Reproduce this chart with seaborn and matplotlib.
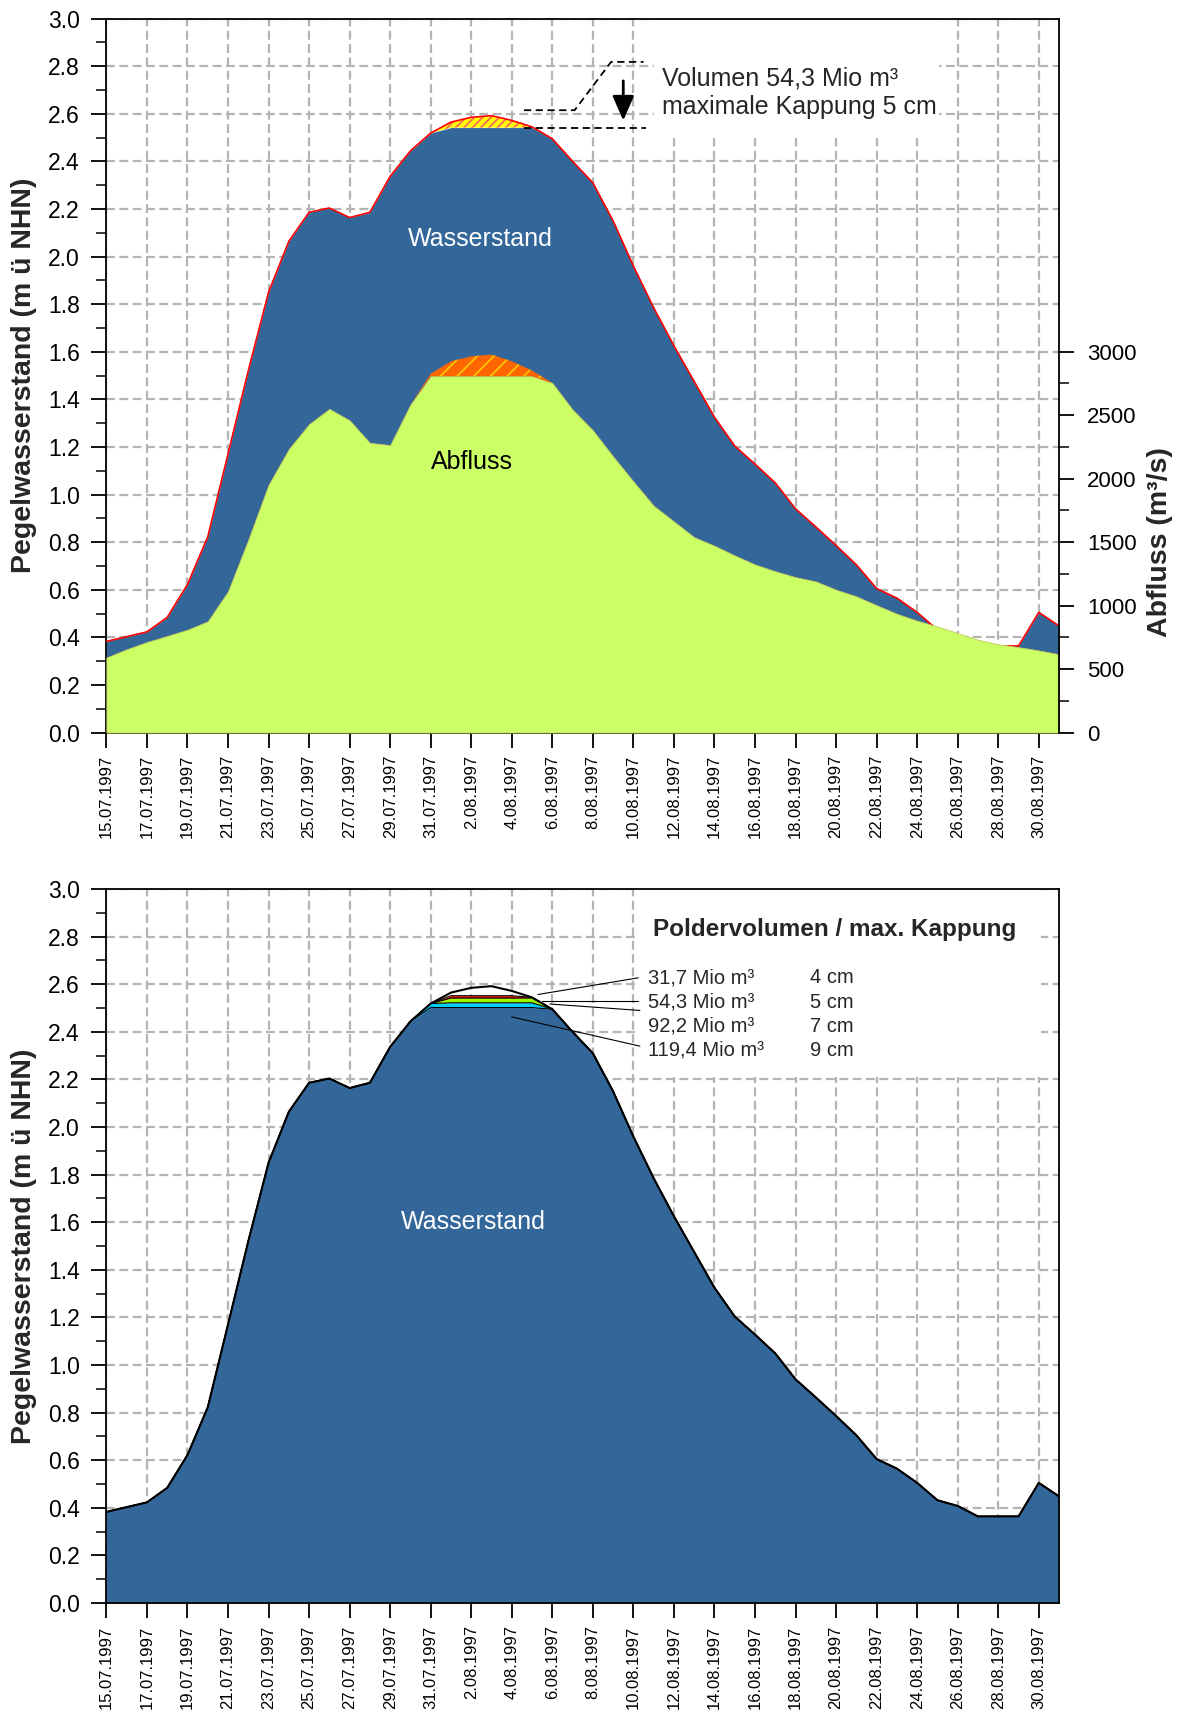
import numpy as np
import pandas as pd
import seaborn as sns
import matplotlib.pyplot as plt
from matplotlib.patches import Rectangle
from matplotlib.ticker import MultipleLocator, FixedLocator


# Tageswerte 15.07.1997 - 31.08.1997
datum = pd.date_range('1997-07-15', '1997-08-31', freq='D')

# Pegelwasserstand (m ü NHN)
wasserstand = [0.383, 0.403, 0.423, 0.484, 0.622, 0.822, 1.17, 1.52, 1.85, 2.064,
               2.186, 2.204, 2.164, 2.186, 2.337, 2.444, 2.519, 2.565, 2.585, 2.592,
               2.572, 2.545, 2.495, 2.40, 2.31, 2.15, 1.96, 1.785, 1.625, 1.475,
               1.325, 1.204, 1.128, 1.049, 0.94, 0.864, 0.786, 0.705, 0.605, 0.565,
               0.505, 0.432, 0.408, 0.364, 0.364, 0.364, 0.505, 0.448]

# Abfluss (m³/s)
abfluss = [591, 656, 713, 761, 810, 876, 1112, 1519, 1952, 2233,
           2430, 2550, 2460, 2282, 2265, 2584, 2826, 2925, 2964, 2978,
           2925, 2852, 2754, 2544, 2381, 2175, 1978, 1787, 1663, 1539,
           1472, 1395, 1324, 1271, 1224, 1191, 1125, 1073, 1003, 936,
           881, 836, 784, 731, 696, 673, 647, 617]

abfluss_kappung = 2808   # m³/s, gekappter Scheitel
kappung_oben = 5         # cm
polder_volumen = ['31,7 Mio m³', '54,3 Mio m³', '92,2 Mio m³', '119,4 Mio m³']
polder_kappung = [4, 5, 7, 9]   # cm
band_farben = ['#FF0000', '#99FF00', '#00CCFF']

tag = np.arange(len(datum))
tick_labels = [f'{d.day}.{d.month:02d}.{d.year}' for d in datum[::2]]
df = pd.DataFrame({'tag': tag, 'wasserstand': wasserstand, 'abfluss': abfluss})

blau = '#336699'
gruen = '#CCFF66'

sns.set_style('ticks')
plt.rcParams['font.family'] = ['Liberation Sans', 'DejaVu Sans']
plt.rcParams['hatch.linewidth'] = 1.2

fig = plt.figure(figsize=(11.82, 17.20), dpi=100)
ax1 = fig.add_axes([0.090, 0.5741, 0.806, 0.4151])
ax2 = fig.add_axes([0.090, 0.0680, 0.806, 0.4151])


def achse(ax):
    ax.set_xlim(0, len(datum) - 1)
    ax.set_ylim(0, 3.0)
    ax.yaxis.set_major_locator(MultipleLocator(0.2))
    ax.yaxis.set_minor_locator(MultipleLocator(0.1))
    ax.yaxis.set_major_formatter('{x:.1f}')
    ax.set_xticks(tag[::2])
    ax.set_xticklabels(tick_labels, rotation=90, fontsize=12)
    ax.tick_params(which='major', direction='out', length=11, width=1.3, colors='black')
    ax.tick_params(axis='y', which='minor', direction='out', length=7, width=1.3)
    ax.tick_params(axis='y', labelsize=16.5, pad=8)
    ax.tick_params(axis='x', pad=5)
    ax.grid(True, which='major', color='#b4b4b4', linestyle=(0, (4, 2)), linewidth=1.6)
    ax.set_axisbelow(True)
    for s in ax.spines.values():
        s.set_visible(True)
        s.set_color('black')
        s.set_linewidth(1.3)
    ax.set_xlabel('')
    ax.set_ylabel('Pegelwasserstand (m ü NHN)', fontsize=20.5, fontweight='bold')
    ax.yaxis.set_label_coords(-0.073, 0.5)


# ---------- oben: Wasserstand + Abfluss ----------
w = np.array(wasserstand)
w_cap = np.minimum(w, w.max() - kappung_oben / 100)
ax1.fill_between(tag, 0, w_cap, color=blau, lw=0, zorder=2)
ax1.fill_between(tag, w_cap, w, facecolor='#FFFF00', edgecolor='#FF6060',
                 hatch='////', lw=0, zorder=2)
sns.lineplot(data=df, x='tag', y='wasserstand', ax=ax1, color='red', lw=1.2, zorder=3)
achse(ax1)
ax1.spines['right'].set_visible(False)

# Kasten + Beschriftung Kappung
ax1.add_patch(Rectangle((27.0, 2.5), 14.1, 0.5, facecolor='white', edgecolor='none', zorder=0.8))
ax1.plot([20.6, 23.1, 24.9, 26.5], [2.615, 2.615, 2.818, 2.818], color='black',
         ls=(0, (4, 2.5)), lw=1.3, zorder=4)
ax1.plot([20.6, 26.6], [w_cap.max(), w_cap.max()], color='black',
         ls=(0, (4, 2.5)), lw=1.3, zorder=4)
ax1.annotate('', xy=(25.5, 2.56), xytext=(25.5, 2.75),
             arrowprops=dict(arrowstyle='-|>,head_length=0.75,head_width=0.33',
                             color='black', lw=2, mutation_scale=20), zorder=4)
ax1.text(27.4, 2.747, f'Volumen {polder_volumen[1]}', fontsize=18, va='center', zorder=4)
ax1.text(27.4, 2.627, f'maximale Kappung {kappung_oben} cm', fontsize=18, va='center', zorder=4)
ax1.text(18.43, 2.074, 'Wasserstand', color='white', fontsize=18, ha='center', va='center', zorder=4)

ax1r = ax1.twinx()
q = np.array(abfluss)
q_cap = np.minimum(q, abfluss_kappung)
ax1r.fill_between(tag, 0, q_cap, facecolor=gruen, edgecolor='#C8C860', lw=0.6, zorder=2)
ax1r.fill_between(tag, q_cap, q, facecolor='#FF6600', edgecolor='#FFCC00',
                  hatch='//', lw=0, zorder=2)
ax1r.set_ylim(0, 5625)
ax1r.set_xlim(0, len(datum) - 1)
ax1r.yaxis.set_major_locator(FixedLocator(range(0, 3001, 500)))
ax1r.yaxis.set_minor_locator(FixedLocator(range(250, 3000, 500)))
ax1r.tick_params(axis='y', which='major', direction='out', length=11, width=1.3,
                 labelsize=16, pad=9, colors='black')
ax1r.tick_params(axis='y', which='minor', direction='out', length=7, width=1.3)
ax1r.grid(False)
for k, s in ax1r.spines.items():
    s.set_visible(k == 'right')
    s.set_color('black')
    s.set_linewidth(1.3)
ax1r.set_ylabel('Abfluss (m³/s)', fontsize=20.5, fontweight='bold')
ax1r.yaxis.set_label_coords(1.092, 0.267)
ax1r.text(18.05, 2134, 'Abfluss', color='black', fontsize=18, ha='center', va='center')

# ---------- unten: Poldervarianten ----------
stufen = [np.minimum(w, w.max() - c / 100) for c in polder_kappung]
ax2.fill_between(tag, 0, stufen[3], color=blau, lw=0, zorder=2)
for i in range(3):
    ax2.fill_between(tag, stufen[i + 1], stufen[i], color=band_farben[i], lw=0, zorder=2)
for s in stufen:
    sns.lineplot(x=tag, y=s, ax=ax2, color='black', lw=0.8, zorder=3)
sns.lineplot(data=df, x='tag', y='wasserstand', ax=ax2, color='black', lw=1.5, zorder=3)
achse(ax2)

ax2.add_patch(Rectangle((26.1, 2.21), 20.0, 0.79, facecolor='white', edgecolor='none', zorder=0.8))
ax2.text(35.95, 2.83, 'Poldervolumen / max. Kappung', ha='center', va='center',
         fontsize=17.5, fontweight='bold', zorder=4)
zeilen_y = [2.627, 2.525, 2.424, 2.323]
leit_start = [(21.29, 2.557), (21.47, 2.531), (21.88, 2.517), (19.99, 2.463)]
leit_ende = [(26.24, 2.627), (26.24, 2.531), (26.32, 2.49), (26.32, 2.34)]
for vol, cm, y, a, b in zip(polder_volumen, polder_kappung, zeilen_y, leit_start, leit_ende):
    ax2.text(26.7, y, vol, fontsize=14.5, va='center', zorder=4)
    ax2.text(34.7, y, f'{cm} cm', fontsize=14.5, va='center', zorder=4)
    ax2.plot([a[0], b[0]], [a[1], b[1]], color='black', lw=0.8, zorder=4)
ax2.text(18.1, 1.60, 'Wasserstand', color='white', fontsize=18, ha='center', va='center', zorder=4)

fig.savefig('out.png', dpi=100)
